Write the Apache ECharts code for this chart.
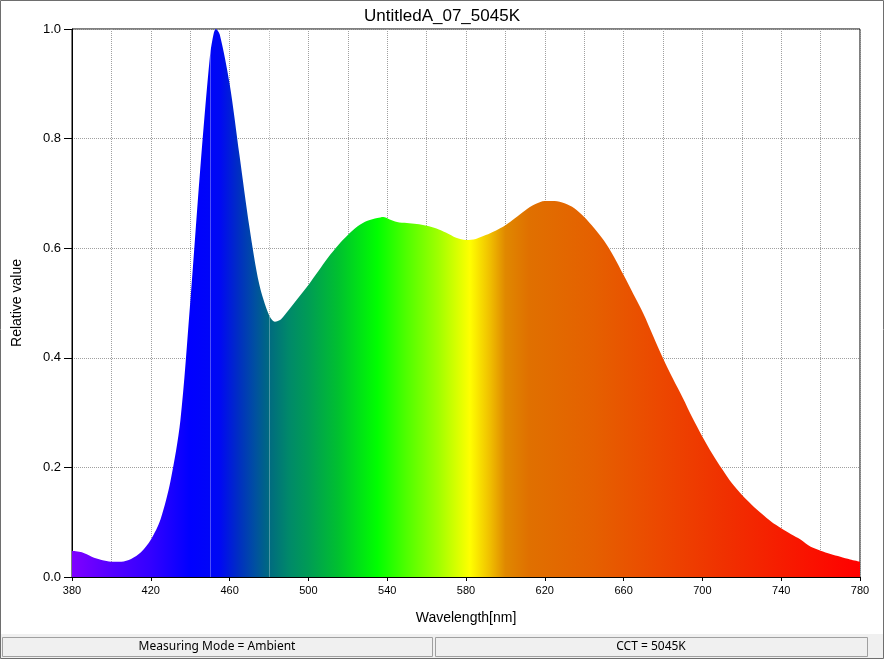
<!DOCTYPE html>
<html>
<head>
<meta charset="utf-8">
<title>UntitledA_07_5045K</title>
<script src="https://cdn.jsdelivr.net/npm/echarts@6/dist/echarts.min.js"></script>
<style>
    html, body { margin: 0; padding: 0; background: #fff; }
    #main { width: 884px; height: 659px; }
</style>
</head>
<body>
<div id="main"></div>
<script>
// wavelength samples (nm) and relative spectral values
var wavelengths = [380, 385, 390, 395, 400, 405, 410, 415, 420, 425, 430, 435, 440, 445, 450, 452, 453, 455,
    460, 465, 470, 475, 480, 483, 486, 490, 495, 500, 505, 510, 515, 520, 525, 530, 535, 538, 541, 545,
    550, 555, 560, 565, 570, 575, 580, 585, 590, 595, 600, 605, 610, 615, 620, 625, 630, 635, 640, 645,
    650, 655, 660, 665, 670, 675, 680, 685, 690, 695, 700, 705, 710, 715, 720, 725, 730, 735, 740, 745,
    750, 755, 760, 765, 770, 775, 780];
var values = [0.048, 0.045, 0.037, 0.031, 0.028, 0.028, 0.033, 0.045, 0.068, 0.106, 0.175, 0.285, 0.50, 0.74, 0.95, 0.993, 1.0, 0.99,
    0.90, 0.77, 0.64, 0.535, 0.478, 0.466, 0.470, 0.487, 0.51, 0.533, 0.558, 0.583, 0.605, 0.624, 0.640, 0.650, 0.655, 0.657, 0.653, 0.648,
    0.646, 0.644, 0.641, 0.636, 0.628, 0.619, 0.615, 0.617, 0.624, 0.632, 0.642, 0.655, 0.669, 0.680, 0.686, 0.686, 0.682, 0.673, 0.657, 0.637,
    0.614, 0.585, 0.551, 0.516, 0.481, 0.440, 0.399, 0.362, 0.327, 0.290, 0.256, 0.225, 0.197, 0.171, 0.150, 0.132, 0.116, 0.101, 0.089, 0.078,
    0.068, 0.055, 0.048, 0.042, 0.037, 0.032, 0.028];

// spectrum colours used for the fill
var colorNm = [380, 400, 420, 440, 455, 465, 473, 480, 490, 500, 515, 535, 550, 566, 582, 592, 600, 612, 645, 678, 712, 746, 780];
var colorHex = ['#7f00ff', '#5500ff', '#3300ff', '#0000ff', '#0008f4', '#0030c0', '#0050a0', '#006a80', '#00896a', '#009c55',
    '#00c030', '#00ff00', '#50ff00', '#a0ff00', '#ffff00', '#f0c000', '#e08800', '#e07000', '#e56000', '#ec4800', '#f03000', '#f81800', '#ff0000'];

// seams visible inside the fill
var seams = [450, 480];

var xMin = 380, xMax = 780;
var statusTexts = ['Measuring Mode = Ambient', 'CCT = 5045K'];

var myChart = echarts.init(document.getElementById('main'));

var seriesData = [];
for (var i = 0; i < wavelengths.length; i++) {
    seriesData.push([wavelengths[i], values[i]]);
}
var stops = [];
for (var j = 0; j < colorNm.length; j++) {
    stops.push({offset: (colorNm[j] - xMin) / (xMax - xMin), color: colorHex[j]});
}

var font = '"Liberation Sans", Arial, sans-serif';
var uiFont = '"Noto Sans", "Liberation Sans", sans-serif';

option = {
    backgroundColor: '#fff',
    animation: false,
    title: {
        text: 'UntitledA_07_5045K',
        left: 'center',
        top: 3,
        textStyle: {fontFamily: font, fontSize: 17, fontWeight: 'normal', color: '#000'}
    },
    grid: {
        left: 72,
        top: 29,
        right: 24,
        bottom: 82,
        show: true,
        borderColor: '#000',
        borderWidth: 1
    },
    xAxis: {
        type: 'value',
        min: xMin,
        max: xMax,
        interval: 40,
        name: 'Wavelength[nm]',
        nameLocation: 'middle',
        nameGap: 34,
        nameTextStyle: {fontFamily: font, fontSize: 14, color: '#000'},
        axisLine: {show: true, lineStyle: {color: '#000', width: 1}},
        axisTick: {show: true, length: 4, lineStyle: {color: '#000'}},
        axisLabel: {fontFamily: font, fontSize: 11, color: '#000', margin: 8},
        splitLine: {show: true, lineStyle: {color: '#a0a0a0', type: 'dotted', width: 1}},
        minorTick: {show: false, splitNumber: 2},
        minorSplitLine: {show: true, lineStyle: {color: '#a0a0a0', type: 'dotted', width: 1}}
    },
    yAxis: {
        type: 'value',
        min: 0,
        max: 1,
        interval: 0.2,
        name: 'Relative value',
        nameLocation: 'middle',
        nameGap: 48,
        nameTextStyle: {fontFamily: font, fontSize: 14, color: '#000'},
        axisLine: {show: true, lineStyle: {color: '#000', width: 1}},
        axisTick: {show: true, length: 8, lineStyle: {color: '#000'}},
        axisLabel: {
            fontFamily: font, fontSize: 13, color: '#000', margin: 11,
            formatter: function (v) { return v.toFixed(1); }
        },
        splitLine: {show: true, lineStyle: {color: '#a0a0a0', type: 'dotted', width: 1}}
    },
    series: [{
        name: 'spectrum',
        type: 'line',
        data: seriesData,
        smooth: 0.3,
        showSymbol: false,
        silent: true,
        lineStyle: {width: 0},
        areaStyle: {
            opacity: 1,
            color: new echarts.graphic.LinearGradient(0, 0, 1, 0, stops)
        },
        markLine: {
            silent: true,
            symbol: ['none', 'none'],
            label: {show: false},
            lineStyle: {color: 'rgba(255,255,255,0.3)', type: 'solid', width: 1},
            data: seams.map(function (s) { return {xAxis: s}; })
        }
    }],
    graphic: [
        // status bar
        {type: 'rect', shape: {x: 0, y: 634, width: 884, height: 25}, style: {fill: '#f0f0f0'}, z: 10},
        {type: 'rect', shape: {x: 2.5, y: 637.5, width: 430, height: 19}, style: {fill: '#f0f0f0', stroke: '#a0a0a0', lineWidth: 1}, z: 11},
        {type: 'rect', shape: {x: 435.5, y: 637.5, width: 432, height: 19}, style: {fill: '#f0f0f0', stroke: '#a0a0a0', lineWidth: 1}, z: 11},
        {type: 'text', x: 217, y: 647, style: {text: statusTexts[0], font: '12px ' + uiFont, fill: '#000', textAlign: 'center', textVerticalAlign: 'middle'}, z: 12},
        {type: 'text', x: 651, y: 647, style: {text: statusTexts[1], font: '12px ' + uiFont, fill: '#000', textAlign: 'center', textVerticalAlign: 'middle'}, z: 12},
        // window frame
        {type: 'rect', shape: {x: 0.5, y: 0.5, width: 883, height: 658}, style: {fill: 'none', stroke: '#6e6e6e', lineWidth: 1}, z: 13}
    ]
};

myChart.setOption(option);
</script>
</body>
</html>
